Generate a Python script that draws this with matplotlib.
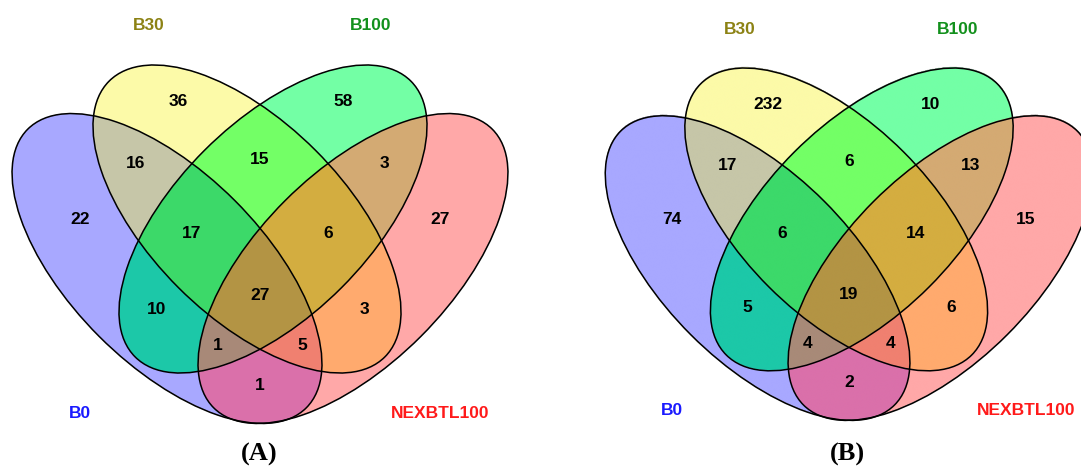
import numpy as np
import matplotlib.pyplot as plt
from matplotlib.patches import Ellipse

set_names = ['B0', 'B30', 'B100', 'NEXBTL100']
set_colors = ['#1a1aff', '#8c8214', '#12901c', '#ff1a1a']

# regions named by the sets they belong to
regions = ['B0', 'B30', 'B100', 'NEXBTL100',
           'B0&B30', 'B30&B100', 'B100&NEXBTL100', 'B0&NEXBTL100',
           'B0&B100', 'B30&NEXBTL100',
           'B0&B30&B100', 'B30&B100&NEXBTL100',
           'B0&B30&NEXBTL100', 'B0&B100&NEXBTL100',
           'B0&B30&B100&NEXBTL100']
counts_a = [22, 36, 58, 27, 16, 15, 3, 1, 10, 3, 17, 6, 5, 1, 27]
counts_b = [74, 232, 10, 15, 17, 6, 13, 2, 5, 6, 6, 14, 4, 4, 19]

# ---- layout (units: pixels of a panel, x measured from the panel's middle, y downwards)
# ellipse per set: centre x, centre y, semi-major, semi-minor, angle
shapes = [(-93, 268.5, 197, 96, 45),
          (-13, 219, 195, 97, 45),
          (13, 219, 195, 97, -45),
          (93, 268.5, 197, 96, -45)]
set_label_pos = [(-180, 413), (-111, 26), (111, 26), (180, 413)]
region_pos = {
    'B0': (-180, 219), 'B30': (-82, 102), 'B100': (83, 102), 'NEXBTL100': (180, 219),
    'B0&B30': (-124, 164), 'B30&B100': (0, 160), 'B100&NEXBTL100': (124, 164),
    'B0&NEXBTL100': (0, 385), 'B0&B100': (-103, 309), 'B30&NEXBTL100': (104, 309),
    'B0&B30&B100': (-68, 233), 'B30&B100&NEXBTL100': (68, 233),
    'B0&B30&NEXBTL100': (42, 345), 'B0&B100&NEXBTL100': (-42, 345),
    'B0&B30&B100&NEXBTL100': (0, 295),
}
region_fill = {
    'B0': (168, 168, 255), 'B30': (252, 250, 168), 'B100': (115, 255, 166),
    'NEXBTL100': (255, 168, 168), 'B0&B30': (198, 198, 168), 'B30&B100': (115, 255, 102),
    'B100&NEXBTL100': (212, 170, 115), 'B0&NEXBTL100': (218, 112, 170),
    'B0&B100': (28, 200, 168), 'B30&NEXBTL100': (255, 170, 110),
    'B0&B30&B100': (60, 217, 106), 'B30&B100&NEXBTL100': (212, 173, 64),
    'B0&B30&NEXBTL100': (240, 128, 112), 'B0&B100&NEXBTL100': (168, 138, 120),
    'B0&B30&B100&NEXBTL100': (179, 148, 68),
}

W, H = 1081, 468
XR = 262  # half width of a panel in layout units


def inside(xx, yy, cx, cy, a, b, ang):
    t = np.deg2rad(ang)
    dx, dy = xx - cx, yy - cy
    u = dx * np.cos(t) + dy * np.sin(t)
    v = -dx * np.sin(t) + dy * np.cos(t)
    return (u / a) ** 2 + (v / b) ** 2 <= 1


def venn(fig, mid_x, scale, counts):
    # panel box in figure pixels, scaled around the row centre y=243
    left = mid_x - XR * scale
    top = 243 - 243 * scale
    ax = fig.add_axes([left / W, 1 - (top + H * scale) / H,
                       2 * XR * scale / W, scale])
    ax.set_xlim(-XR, XR)
    ax.set_ylim(H, 0)
    ax.axis('off')

    # colour every region from set membership
    xs = np.linspace(-XR, XR, 4 * XR)
    ys = np.linspace(0, H, 2 * H)
    xx, yy = np.meshgrid(xs, ys)
    member = [inside(xx, yy, *s) for s in shapes]
    img = np.zeros(xx.shape + (4,))
    for name in regions:
        parts = name.split('&')
        mask = np.ones(xx.shape, bool)
        for i, s in enumerate(set_names):
            mask &= member[i] if s in parts else ~member[i]
        img[mask, :3] = np.array(region_fill[name]) / 255
        img[mask, 3] = 1
    ax.imshow(img, extent=(-XR, XR, H, 0), interpolation='antialiased', zorder=1)

    for cx, cy, a, b, ang in shapes:
        ax.add_patch(Ellipse((cx, cy), 2 * a, 2 * b, angle=ang, fill=False,
                             ec='black', lw=1.1, zorder=2))

    for name, n in zip(regions, counts):
        x, y = region_pos[name]
        ax.text(x, y, str(n), ha='center', va='center', fontsize=12.5,
                fontweight='bold', family='Liberation Sans', zorder=3)
    for name, c, (x, y) in zip(set_names, set_colors, set_label_pos):
        ax.text(x, y, name, ha='center', va='center', fontsize=12.5,
                fontweight='bold', color=c, family='Liberation Sans', zorder=3)
    return ax


fig = plt.figure(figsize=(W / 100, H / 100), dpi=100)
venn(fig, 260, 1.0, counts_a)
venn(fig, 849, 0.983, counts_b)

fig.text(259 / W, 1 - 454 / H, '(A)', ha='center', va='center', fontsize=19,
         fontweight='bold', family='Liberation Serif')
fig.text(847 / W, 1 - 454 / H, '(B)', ha='center', va='center', fontsize=19,
         fontweight='bold', family='Liberation Serif')

fig.savefig('out.png', dpi=100)
